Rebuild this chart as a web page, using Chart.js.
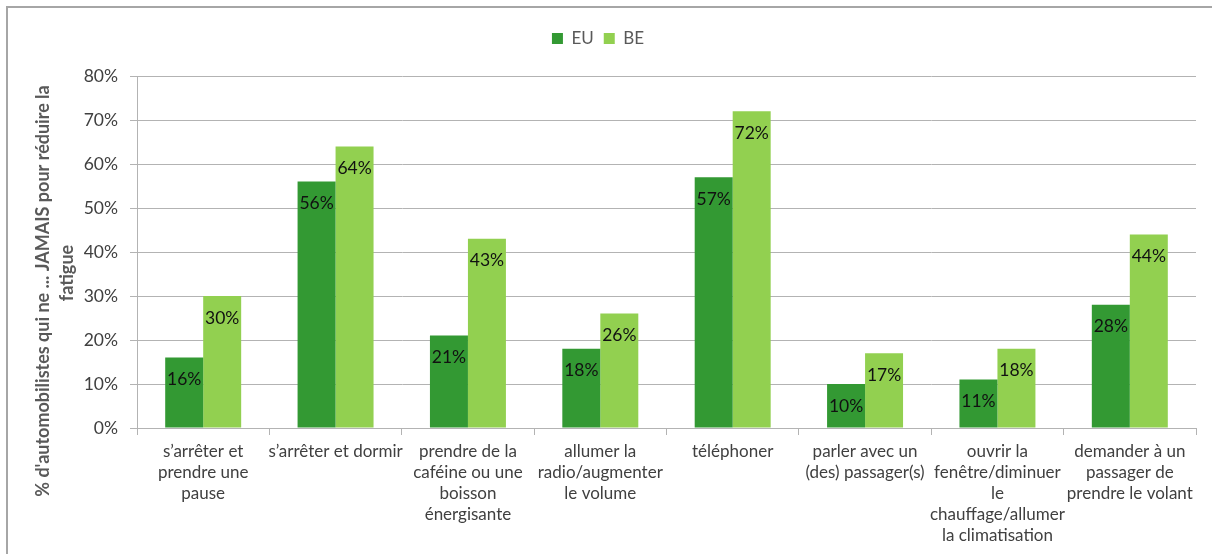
<!DOCTYPE html>
<html>
<head>
<meta charset="utf-8">
<script src="https://cdn.jsdelivr.net/npm/chart.js@4"></script>
<style>
html,body{margin:0;padding:0;background:#fff;}
#wrap{position:relative;width:1212px;height:554px;}
</style>
</head>
<body>
<div id="wrap"><canvas id="c" width="1212" height="554"></canvas></div>
<script>
const categories = [
  ["s’arrêter et","prendre une","pause"],
  ["s’arrêter et dormir"],
  ["prendre de la","caféine ou une","boisson","énergisante"],
  ["allumer la","radio/augmenter","le volume"],
  ["téléphoner"],
  ["parler avec un","(des) passager(s)"],
  ["ouvrir la","fenêtre/diminuer","le","chauffage/allumer","la climatisation"],
  ["demander à un","passager de","prendre le volant"]
];
const seriesNames = ["EU","BE"];
const euValues = [16,56,21,18,57,10,11,28];
const beValues = [30,64,43,26,72,17,18,44];
const yTitleLines = ["% d'automobilistes qui ne ... JAMAIS pour réduire la","fatigue"];
const yMax = 80, yStep = 10;

const FONT = "Lato, 'Open Sans', sans-serif";

const borderPlugin = {
  id:'frame',
  beforeDraw(chart){
    const ctx = chart.ctx;
    ctx.save();
    ctx.fillStyle = '#fff';
    ctx.fillRect(0,0,chart.width,chart.height);
    ctx.strokeStyle = '#a6a6a6';
    ctx.lineWidth = 2;
    ctx.beginPath();
    ctx.moveTo(7, chart.height);
    ctx.lineTo(7, 7);
    ctx.lineTo(chart.width, 7);
    ctx.stroke();
    ctx.restore();
  }
};

const labelPlugin = {
  id:'barLabels',
  afterDatasetsDraw(chart){
    const ctx = chart.ctx;
    ctx.save();
    ctx.font = "17.5px " + FONT;
    ctx.fillStyle = '#111';
    ctx.textAlign = 'center';
    ctx.textBaseline = 'middle';
    chart.data.datasets.forEach((ds, di) => {
      const meta = chart.getDatasetMeta(di);
      meta.data.forEach((bar, i) => {
        ctx.fillText(ds.data[i] + '%', bar.x, bar.y + 22);
      });
    });
    ctx.restore();
  }
};

const yTitlePlugin = {
  id:'yTitle',
  afterDraw(chart){
    const ctx = chart.ctx;
    ctx.save();
    ctx.font = "bold 18px " + FONT;
    ctx.fillStyle = '#595959';
    ctx.textAlign = 'center';
    ctx.textBaseline = 'middle';
    const pos = [[43,291],[67,273]];
    yTitleLines.forEach((t, i) => {
      ctx.save();
      ctx.translate(pos[i][0], pos[i][1]);
      ctx.rotate(-Math.PI/2);
      ctx.fillText(t, 0, 0);
      ctx.restore();
    });
    ctx.restore();
  }
};

const legendFit = {
  id:'legendFit',
  beforeInit(chart){
    const orig = chart.legend.fit;
    chart.legend.fit = function(){
      orig.bind(chart.legend)();
      this.height = 56;
    };
  }
};

new Chart(document.getElementById('c'), {
  type:'bar',
  data:{
    labels: categories,
    datasets:[
      {label:seriesNames[0], data:euValues, backgroundColor:'#339933', borderWidth:0},
      {label:seriesNames[1], data:beValues, backgroundColor:'#92D050', borderWidth:0}
    ]
  },
  options:{
    responsive:false,
    animation:false,
    devicePixelRatio:1,
    layout:{padding:{top:20,right:16,left:0,bottom:0}},
    datasets:{bar:{categoryPercentage:0.574, barPercentage:1}},
    plugins:{
      legend:{
        position:'top',
        labels:{
          boxWidth:11, boxHeight:11, padding:10,
          color:'#595959',
          font:{family:FONT, size:17}
        }
      },
      tooltip:{enabled:false}
    },
    scales:{
      x:{
        grid:{drawOnChartArea:false, drawTicks:true, tickLength:7, color:'#b3b3b3', offset:true},
        border:{color:'#b3b3b3', width:1},
        ticks:{color:'#404040', font:{family:FONT, size:17, lineHeight:1.24}, padding:6, maxRotation:0, autoSkip:false},
        afterFit(scale){ scale.height = 126; }
      },
      y:{
        min:0, max:yMax,
        ticks:{stepSize:yStep, color:'#404040', font:{family:FONT, size:17.5}, padding:12,
          callback:(v)=>v+'%'},
        grid:{color:'#b3b3b3', tickLength:7, drawTicks:true},
        border:{color:'#b3b3b3', width:1},
        afterFit(scale){ scale.width = 137; }
      }
    }
  },
  plugins:[borderPlugin, labelPlugin, yTitlePlugin, legendFit]
});
</script>
</body>
</html>
